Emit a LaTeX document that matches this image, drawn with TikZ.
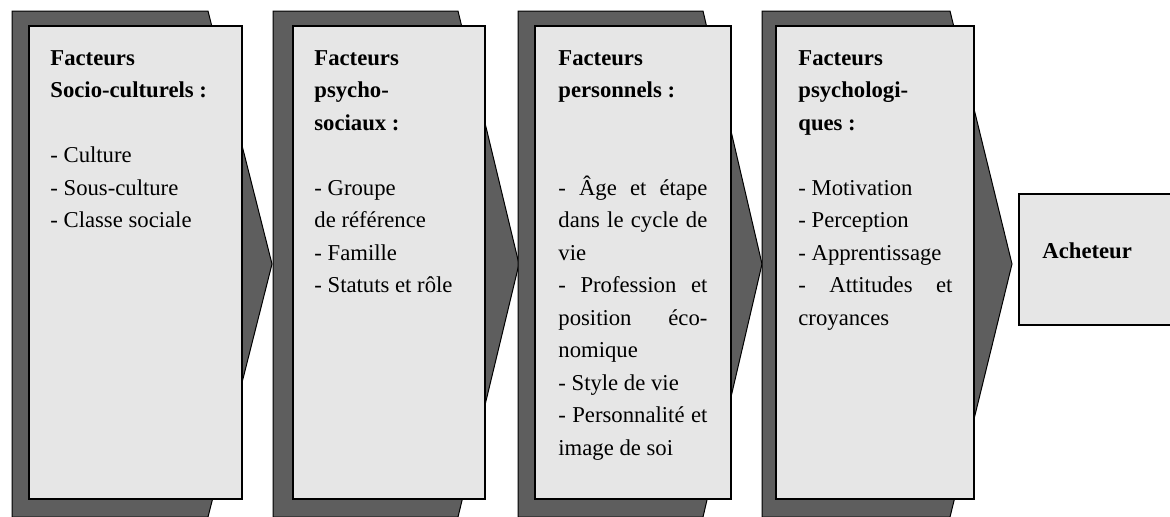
\documentclass[tikz,border=0pt]{standalone}
\usepackage{fontspec}
\setmainfont{Liberation Serif}
\usepackage{xcolor}
\usetikzlibrary{positioning}

\definecolor{chevgray}{HTML}{5E5E5E}
\definecolor{panelgray}{HTML}{E6E6E6}

\begin{document}
\begin{tikzpicture}[
    x=0.5pt, y=-0.5pt,
    chev/.style={draw=black, line width=0.5pt, fill=chevgray},
    panel/.style={rectangle, draw, line width=0.8pt, fill=panelgray, anchor=north west, minimum height=236.5pt, inner sep=0pt},
    txt/.style={anchor=base west, inner sep=0pt, align=justify, font=\fontsize{11.35}{16.25}\selectfont}
  ]
    \useasboundingbox (0,0) rectangle (1170,516);

    \foreach \l/\r/\t in {12/208/272, 273/458/519, 518/703/762, 762/950/1012}
      \draw[chev] (\l,11) -- (\r,11) -- (\t,264) -- (\r,517) -- (\l,517) -- cycle;

    \node[panel, minimum width=106.5pt] (socio) at (28,25) {};
    \node[panel, minimum width=96pt] (psychosoc) at (292,25) {};
    \node[panel, minimum width=98pt] (perso) at (534,25) {};
    \node[panel, minimum width=99pt] (psycho) at (775,25) {};
    \node[panel, minimum width=77pt, minimum height=65.5pt] (acheteur) at (1018,193) {};

    \node[txt, text width=84pt] (sociotxt) at ([xshift=11pt, yshift=-20pt]socio.north west)
      {{\bfseries Facteurs\\Socio-culturels :}\\[16.25pt]
       - Culture\\- Sous-culture\\- Classe sociale};
    \node[txt, text width=74pt] (psychosoctxt) at ([xshift=11pt, yshift=-20pt]psychosoc.north west)
      {{\bfseries Facteurs\\psycho-\\sociaux :}\\[16.25pt]
       - Groupe\\de référence\\- Famille\\- Statuts et rôle};
    \node[txt, text width=74.5pt] (persotxt) at ([xshift=12pt, yshift=-20pt]perso.north west)
      {{\bfseries Facteurs\\personnels :}\\[32.5pt]
       - Âge et étape\linebreak dans le cycle de\linebreak vie\\
       - Profession et\linebreak position éco-\linebreak nomique\\
       - Style de vie\\
       - Personnalité et\linebreak image de soi};
    \node[txt, text width=77pt] (psychotxt) at ([xshift=11.5pt, yshift=-20pt]psycho.north west)
      {{\bfseries Facteurs\\psychologi-\\ques :}\\[16.25pt]
       - Motivation\\- Perception\\- Apprentissage\\
       - Attitudes et\linebreak croyances};
    \node[txt, font=\fontsize{11.35}{16.25}\selectfont\bfseries] (achtxt) at ([xshift=12pt, yshift=-32.5pt]acheteur.north west) {Acheteur};
  \end{tikzpicture}
\end{document}
